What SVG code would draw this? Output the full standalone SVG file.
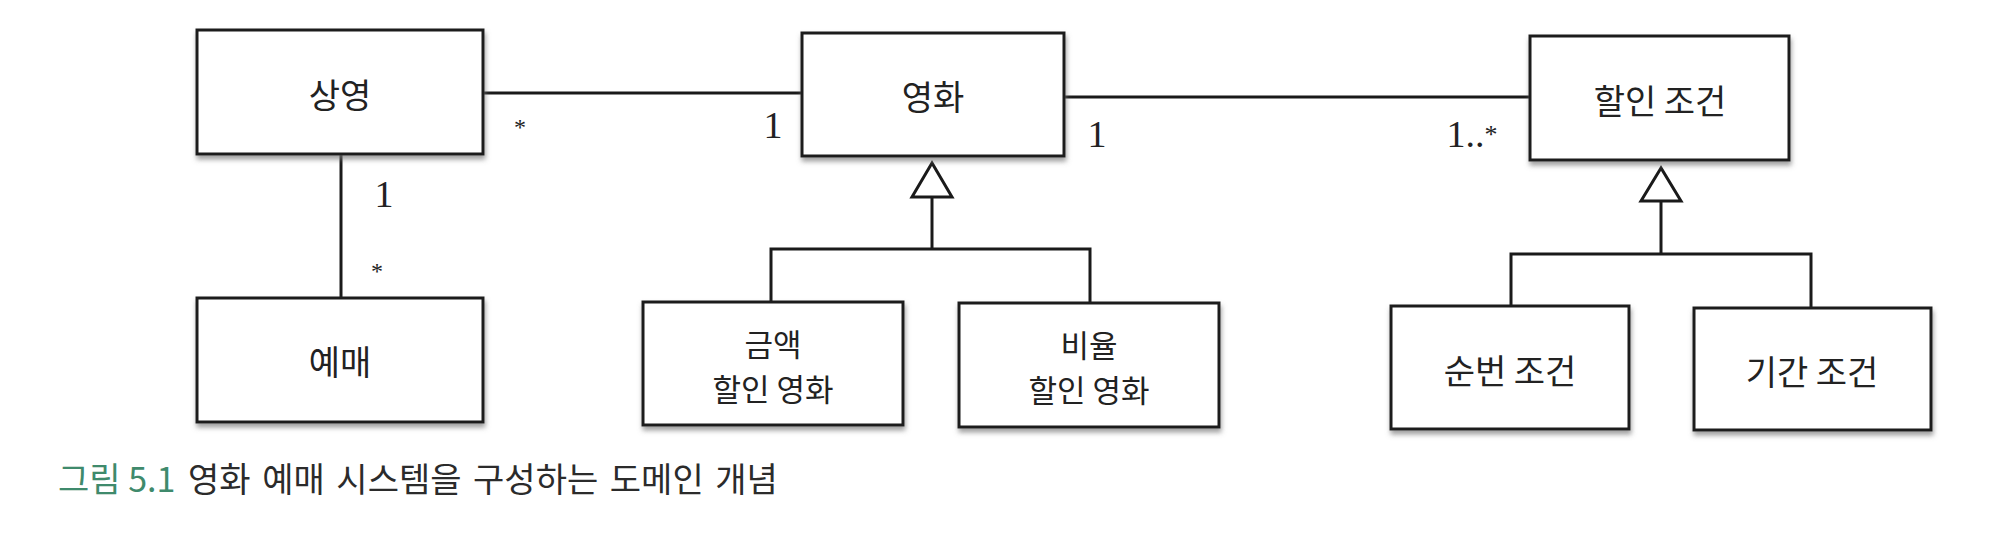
<svg xmlns="http://www.w3.org/2000/svg" width="1991" height="534" viewBox="0 0 1991 534">
<defs>
<filter id="sh" x="-10%" y="-10%" width="130%" height="140%">
<feDropShadow dx="1" dy="4" stdDeviation="2.5" flood-color="#777" flood-opacity="0.7"/>
</filter>
</defs>
<style>
.box{fill:#fff;stroke:#1a1a1a;stroke-width:3;filter:url(#sh)}
.lbl{font-family:"Noto Sans CJK KR","Noto Sans",sans-serif;font-size:34px;fill:#222;text-anchor:middle;dominant-baseline:central}
.two{font-size:31px}
.ln{fill:none;stroke:#1a1a1a;stroke-width:3}
.tri{fill:#fff;stroke:#1a1a1a;stroke-width:3;stroke-linejoin:miter}
.m{font-family:"Liberation Serif","DejaVu Serif",serif;font-size:38px;fill:#222;text-anchor:middle}
.s{font-family:"Liberation Serif","DejaVu Serif",serif;font-size:24px;fill:#222;text-anchor:middle}
.cap{font-family:"Noto Sans CJK KR","Noto Sans",sans-serif;font-size:34px}
</style>
<rect width="1991" height="534" fill="#fff"/>
<g id="connectors">
<line class="ln" x1="483" y1="93" x2="802" y2="93"/>
<line class="ln" x1="1064" y1="97" x2="1530" y2="97"/>
<line class="ln" x1="341" y1="154" x2="341" y2="298"/>
<polyline class="ln" points="771,302 771,249 1090,249 1090,303"/>
<line class="ln" x1="932" y1="197" x2="932" y2="249"/>
<polygon class="tri" points="932,163 912,197 952,197"/>
<polyline class="ln" points="1511,306 1511,254 1811,254 1811,308"/>
<line class="ln" x1="1661" y1="201" x2="1661" y2="254"/>
<polygon class="tri" points="1661,168 1641,201 1681,201"/>
<text class="s" x="520" y="135">*</text>
<text class="m" x="773" y="138">1</text>
<text class="m" x="1097" y="147">1</text>
<text class="m" x="1472" y="147">1..<tspan font-size="26" dy="-4">*</tspan></text>
<text class="m" x="384" y="207">1</text>
<text class="s" x="377" y="279">*</text>
</g>
<g id="n-screening"><rect class="box" x="197" y="30" width="286" height="124"/><text class="lbl" x="340" y="93">상영</text></g>
<g id="n-reservation"><rect class="box" x="197" y="298" width="286" height="124"/><text class="lbl" x="340" y="360">예매</text></g>
<g id="n-movie"><rect class="box" x="802" y="33" width="262" height="123"/><text class="lbl" x="933" y="95">영화</text></g>
<g id="n-discount-condition"><rect class="box" x="1530" y="36" width="259" height="124"/><text class="lbl" x="1660" y="99">할인 조건</text></g>
<g id="n-amount-movie"><rect class="box" x="643" y="302" width="260" height="123"/><text class="lbl two" x="773" y="342">금액</text><text class="lbl two" x="773" y="387">할인 영화</text></g>
<g id="n-percent-movie"><rect class="box" x="959" y="303" width="260" height="124"/><text class="lbl two" x="1089" y="343">비율</text><text class="lbl two" x="1089" y="388">할인 영화</text></g>
<g id="n-sequence-condition"><rect class="box" x="1391" y="306" width="238" height="123"/><text class="lbl" x="1510" y="369">순번 조건</text></g>
<g id="n-period-condition"><rect class="box" x="1694" y="308" width="237" height="122"/><text class="lbl" x="1812" y="370">기간 조건</text></g>
<g id="caption">
<text class="cap" x="58" y="492" fill="#3f8a6c">그림 5.1</text>
<text class="cap" x="188" y="492" fill="#2b2b2b" word-spacing="4">영화 예매 시스템을 구성하는 도메인 개념</text>
</g>
</svg>
